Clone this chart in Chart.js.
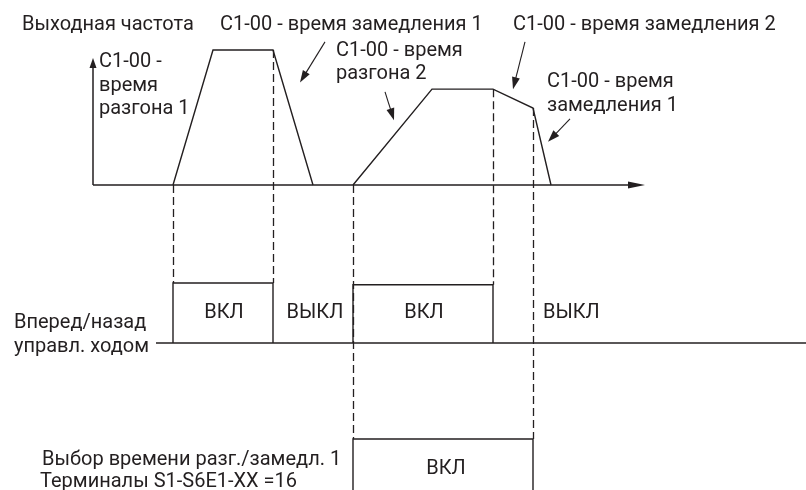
<!DOCTYPE html>
<html>
<head>
<meta charset="utf-8">
<script src="https://cdn.jsdelivr.net/npm/chart.js@4"></script>
<style>
  html, body { margin: 0; padding: 0; background: #fff; }
  #wrap { width: 806px; height: 490px; }
</style>
</head>
<body>
<div id="wrap"><canvas id="diagram" width="806" height="490"></canvas></div>
<script>
// time in arbitrary units, frequency in % of max
const profile1T = [8, 12, 18, 22];
const profile1F = [0, 100, 100, 0];
const profile2T = [26, 33.9, 40, 44, 45.8];
const profile2F = [0, 71, 71, 57, 0];

// run command (Вперед/назад): 0 = off, 1 = on
const runBaseT = [6.3, 71.3];
const runBaseV = [0, 0];
const runT = [8, 8, 18, 18, null, 26, 26, 40, 40];
const runV = [0, 1, 1, 0, null, 0, 0.97, 0.97, 0];

// accel/decel time select 1 (multi-function input = 16)
const selT = [26, 26, 44, 44];
const selV = [0, 1, 1, 0];

// dashed guides: time, frequency where they start, signal level where they end
const guideT = [8, 18, 26, 40, 44];
const guideF = [0, 100, 0, 71, 57];
const guideAxis = ['yRun', 'yRun', 'ySel', 'yRun', 'ySel'];
const guideEndV = [1, 1, 1, 0.97, 1];

// axis extents
const axisTmax = 55.2;
const axisFmax = 94;

// state labels
const stateText = ['ВКЛ', 'ВЫКЛ', 'ВКЛ', 'ВЫКЛ'];
const stateT = [13.1, 22.2, 33.1, 45];
const stateAlign = ['center', 'center', 'center', 'left'];
const selText = 'ВКЛ';

// pointer arrows [t0, f0, t1, f1]
const pointers = [
  [23.2, 106, 20.7, 76],
  [29.2, 69, 30.1, 48],
  [43.2, 106, 42.0, 71],
  [47.7, 49, 45.5, 32]
];

const INK = '#231f20';
const FONT = '20px Roboto, "Liberation Sans", sans-serif';

const toPts = (xs, ys) => xs.map((x, i) => ({ x: x, y: ys[i] }));

function arrowHead(ctx, x0, y0, x1, y1, len, half) {
  const a = Math.atan2(y1 - y0, x1 - x0);
  ctx.beginPath();
  ctx.moveTo(x1, y1);
  ctx.lineTo(x1 - len * Math.cos(a) + half * Math.sin(a), y1 - len * Math.sin(a) - half * Math.cos(a));
  ctx.lineTo(x1 - len * Math.cos(a) - half * Math.sin(a), y1 - len * Math.sin(a) + half * Math.cos(a));
  ctx.closePath();
  ctx.fill();
}

const decorPlugin = {
  id: 'decor',
  beforeDatasetsDraw(chart) {
    const { ctx, scales } = chart;
    const x = scales.x, yF = scales.y;
    ctx.save();
    ctx.strokeStyle = INK;
    ctx.fillStyle = INK;

    // dashed guides
    ctx.lineWidth = 1.3;
    ctx.setLineDash([8, 4]);
    guideT.forEach((t, i) => {
      const px = Math.round(x.getPixelForValue(t)) + 0.5;
      const top = yF.getPixelForValue(guideF[i]);
      const bot = scales[guideAxis[i]].getPixelForValue(guideEndV[i]);
      ctx.beginPath();
      ctx.moveTo(px, top);
      ctx.lineTo(px, bot);
      ctx.stroke();
    });
    ctx.setLineDash([]);

    // axes with arrows
    ctx.lineWidth = 1.5;
    const ox = x.getPixelForValue(0), oy = yF.getPixelForValue(0);
    const ex = x.getPixelForValue(axisTmax), ey = yF.getPixelForValue(axisFmax);
    ctx.beginPath();
    ctx.moveTo(ox, oy); ctx.lineTo(ex - 8, oy);
    ctx.moveTo(ox, oy); ctx.lineTo(ox, ey + 8);
    ctx.stroke();
    arrowHead(ctx, ox, oy, ex, oy, 17, 3.5);
    arrowHead(ctx, ox, oy, ox, ey, 10, 3.5);

    // pointer arrows
    ctx.lineWidth = 1.1;
    pointers.forEach(p => {
      const x0 = x.getPixelForValue(p[0]), y0 = yF.getPixelForValue(p[1]);
      const x1 = x.getPixelForValue(p[2]), y1 = yF.getPixelForValue(p[3]);
      const a = Math.atan2(y1 - y0, x1 - x0);
      ctx.beginPath();
      ctx.moveTo(x0, y0);
      ctx.lineTo(x1 - 8 * Math.cos(a), y1 - 8 * Math.sin(a));
      ctx.stroke();
      arrowHead(ctx, x0, y0, x1, y1, 12, 4);
    });
    ctx.restore();
  },
  afterDatasetsDraw(chart) {
    const { ctx, scales } = chart;
    const x = scales.x, yR = scales.yRun, yS = scales.ySel;
    ctx.save();
    ctx.fillStyle = INK;
    ctx.font = FONT;
    ctx.textBaseline = 'middle';
    const txt = (s, px, py, align) => { ctx.textAlign = align || 'left'; ctx.fillText(s, px, py); };

    txt('Выходная частота', 22, 25);
    txt('C1-00 - время замедления 1', 220, 25);
    txt('C1-00 - время замедления 2', 513, 25);
    txt('C1-00 -', 99, 62);
    txt('время', 99, 86);
    txt('разгона 1', 99, 109);
    txt('C1-00 - время', 336, 51);
    txt('разгона 2', 336, 74);
    txt('C1-00 - время', 547, 82);
    txt('замедления 1', 547, 106);

    txt('Вперед/назад', 14, 323);
    txt('управл. ходом', 14, 347);
    txt('Выбор времени разг./замедл. 1', 42, 460);
    txt('Терминалы S1-S6E1-XX =16', 40, 482);

    const midRun = (yR.getPixelForValue(0) + yR.getPixelForValue(1)) / 2;
    stateText.forEach((s, i) => txt(s, x.getPixelForValue(stateT[i]), midRun, stateAlign[i]));
    txt(selText, x.getPixelForValue((selT[0] + selT[2]) / 2) + 3, yS.getPixelForValue(1) + 30, 'center');
    ctx.restore();
  }
};

const lineStyle = { showLine: true, borderColor: INK, borderWidth: 1.4, pointRadius: 0, fill: false, tension: 0, spanGaps: false };

new Chart(document.getElementById('diagram'), {
  type: 'scatter',
  data: {
    datasets: [
      Object.assign({ label: 'profile1', data: toPts(profile1T, profile1F), yAxisID: 'y' }, lineStyle),
      Object.assign({ label: 'profile2', data: toPts(profile2T, profile2F), yAxisID: 'y' }, lineStyle),
      Object.assign({ label: 'runBase', data: toPts(runBaseT, runBaseV), yAxisID: 'yRun' }, lineStyle),
      Object.assign({ label: 'run', data: toPts(runT, runV), yAxisID: 'yRun' }, lineStyle),
      Object.assign({ label: 'sel', data: toPts(selT, selV), yAxisID: 'ySel' }, lineStyle)
    ]
  },
  options: {
    responsive: false,
    animation: false,
    layout: { padding: 0 },
    plugins: { legend: { display: false }, tooltip: { enabled: false } },
    scales: {
      x: { type: 'linear', min: -9.3, max: 71.3, display: false },
      y: { type: 'linear', min: -225.926, max: 137.037, display: false },
      yRun: { type: 'linear', min: -2.45, max: 5.7167, display: false },
      ySel: { type: 'linear', min: 0.15, max: 8.3167, display: false }
    }
  },
  plugins: [decorPlugin]
});
</script>
</body>
</html>
